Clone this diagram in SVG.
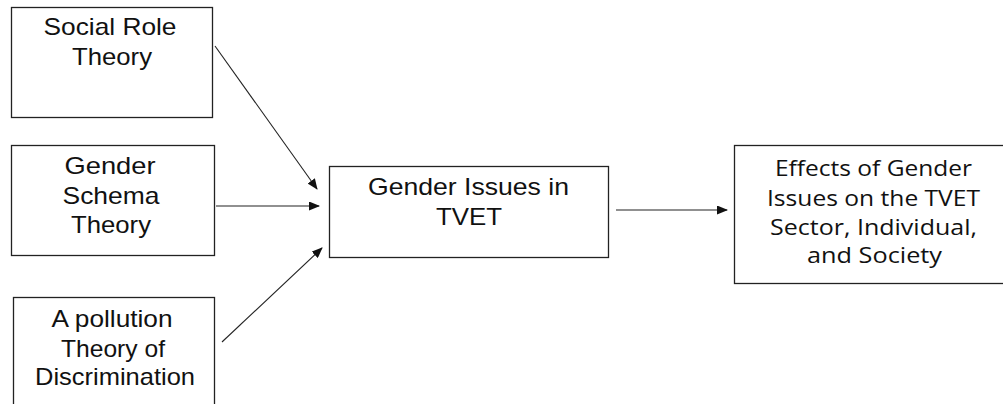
<svg xmlns="http://www.w3.org/2000/svg" width="1003" height="404" viewBox="0 0 1003 404">
<defs>
<style>
.box{fill:#fff;stroke:#222;stroke-width:1.3}
.t{font-family:"Liberation Sans",Arial,sans-serif;font-size:24px;fill:#111;text-anchor:middle}
.a{font-family:"Open Sans","Noto Sans",sans-serif;font-size:22.5px;fill:#111;text-anchor:middle}
.c{stroke:#222;stroke-width:1.1;fill:none;marker-end:url(#ah)}
</style>
<marker id="ah" markerUnits="userSpaceOnUse" markerWidth="11" markerHeight="9" refX="10" refY="4.5" orient="auto">
<path d="M0,0 L11,4.5 L0,9 Z" fill="#111"/>
</marker>
</defs>
<rect width="1003" height="404" fill="#fff"/>
<g id="social-role">
<rect class="box" x="11.5" y="7.5" width="201" height="110"/>
<text class="t" x="110" y="35" textLength="133" lengthAdjust="spacingAndGlyphs">Social Role</text>
<text class="t" x="112" y="65" textLength="80" lengthAdjust="spacingAndGlyphs">Theory</text>
</g>
<g id="gender-schema">
<rect class="box" x="11.5" y="145.5" width="203" height="110"/>
<text class="t" x="110" y="174" textLength="91" lengthAdjust="spacingAndGlyphs">Gender</text>
<text class="t" x="111" y="204" textLength="97" lengthAdjust="spacingAndGlyphs">Schema</text>
<text class="t" x="111" y="233" textLength="80" lengthAdjust="spacingAndGlyphs">Theory</text>
</g>
<g id="pollution">
<rect class="box" x="13.5" y="297.5" width="201" height="120"/>
<text class="t" x="112" y="327" textLength="121" lengthAdjust="spacingAndGlyphs">A pollution</text>
<text class="t" x="113" y="357" textLength="104" lengthAdjust="spacingAndGlyphs">Theory of</text>
<text class="t" x="115" y="385" textLength="160" lengthAdjust="spacingAndGlyphs">Discrimination</text>
</g>
<g id="gender-issues">
<rect class="box" x="329.5" y="166.5" width="279" height="91"/>
<text class="t" x="468.5" y="195" textLength="201" lengthAdjust="spacingAndGlyphs">Gender Issues in</text>
<text class="t" x="469" y="225" textLength="66" lengthAdjust="spacingAndGlyphs">TVET</text>
</g>
<g id="effects">
<rect class="box" x="734.5" y="145.5" width="275" height="138"/>
<text class="a" x="873.5" y="176" textLength="197" lengthAdjust="spacingAndGlyphs">Effects of Gender</text>
<text class="a" x="873.5" y="206" textLength="213" lengthAdjust="spacingAndGlyphs">Issues on the TVET</text>
<text class="a" x="873.5" y="235" textLength="207" lengthAdjust="spacingAndGlyphs">Sector, Individual,</text>
<text class="a" x="874.5" y="263" textLength="135" lengthAdjust="spacingAndGlyphs">and Society</text>
</g>
<g id="connectors">
<line class="c" x1="215" y1="46" x2="317" y2="189"/>
<line class="c" x1="216" y1="206" x2="319" y2="206"/>
<line class="c" x1="222" y1="342" x2="322" y2="248"/>
<line class="c" x1="616" y1="210" x2="727" y2="210"/>
</g>
</svg>
